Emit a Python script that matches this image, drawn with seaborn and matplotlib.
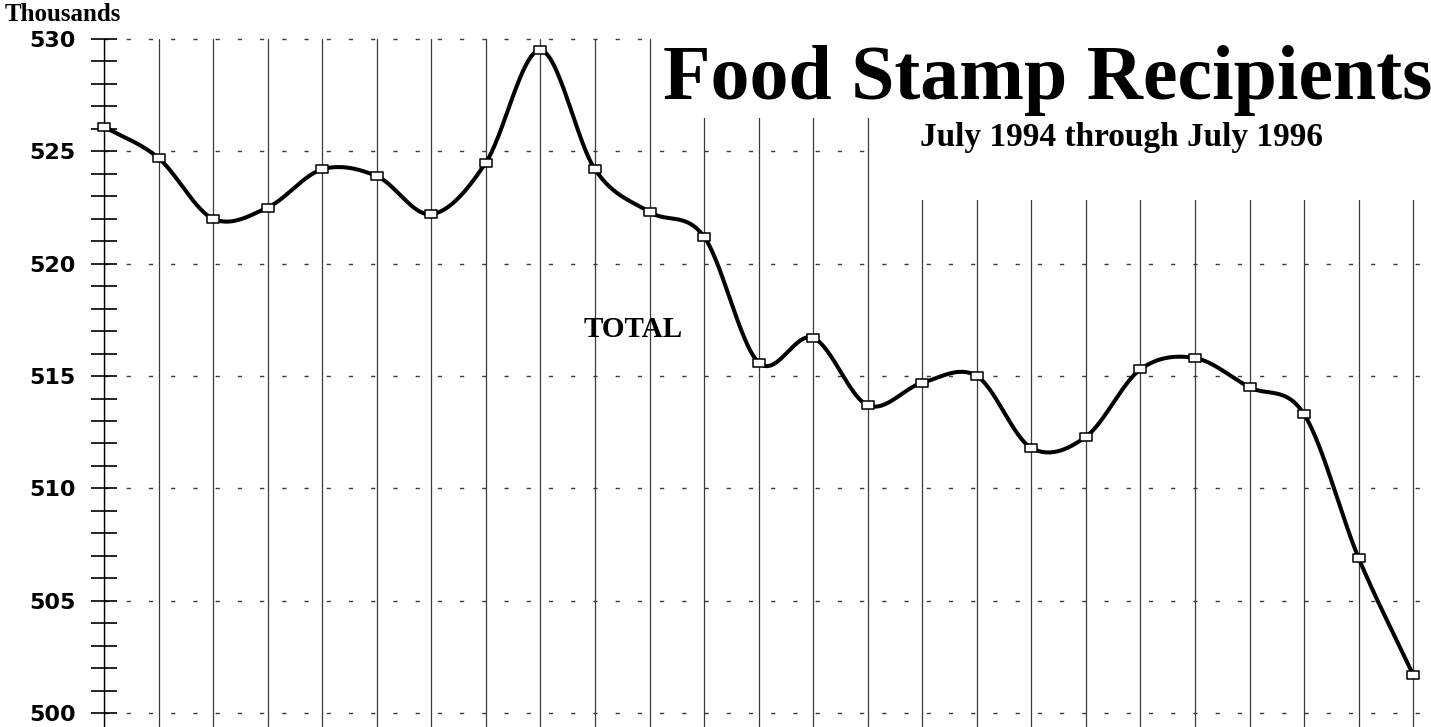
import numpy as np
import pandas as pd
import matplotlib
matplotlib.use("Agg")
import matplotlib.pyplot as plt
from matplotlib.path import Path
from matplotlib.patches import Rectangle
from matplotlib.ticker import MultipleLocator
import seaborn as sns

# monthly totals, thousands of recipients
months = pd.period_range("1994-07", "1996-07", freq="M").strftime("%b %Y").tolist()
recipients = [526.1, 524.7, 522.0, 522.5, 524.2, 523.9, 522.2, 524.5, 529.5,
              524.2, 522.3, 521.2, 515.6, 516.7, 513.7, 514.7, 515.0, 511.8,
              512.3, 515.3, 515.8, 514.5, 513.3, 506.9, 501.7]
y_ticks = [500, 505, 510, 515, 520, 525, 530]

df = pd.DataFrame({"month": months, "idx": range(len(months)), "total": recipients})


def catmull_rom(x, y, n=30):
    # smooth drawing path through the data points (like a spreadsheet "smoothed line")
    p = np.column_stack([x, y]).astype(float)
    p = np.vstack([2 * p[0] - p[1], p, 2 * p[-1] - p[-2]])
    t = np.linspace(0, 1, n, endpoint=False)[:, None]
    segs = []
    for i in range(1, len(p) - 2):
        p0, p1, p2, p3 = p[i - 1], p[i], p[i + 1], p[i + 2]
        segs.append(0.5 * (2 * p1 + (-p0 + p2) * t
                           + (2 * p0 - 5 * p1 + 4 * p2 - p3) * t ** 2
                           + (-p0 + 3 * p1 - 3 * p2 + p3) * t ** 3))
    segs.append(p[-2][None, :])
    return np.vstack(segs)


curve = catmull_rom(df["idx"], df["total"])

sns.set_style("white")
plt.rcParams["text.color"] = "black"
plt.rcParams["ytick.color"] = "black"
serif = ["Liberation Serif", "DejaVu Serif"]

W, H = 1431, 727
fig = plt.figure(figsize=(W / 100, H / 100), dpi=100)
ax = fig.add_axes([104 / W, 0, (W - 104) / W, 688 / H])

sns.lineplot(x=curve[:, 0], y=curve[:, 1], sort=False, estimator=None,
             color="black", linewidth=2.9, ax=ax, zorder=3)

rect = Path([(-1.6, -1), (1.6, -1), (1.6, 1), (-1.6, 1), (-1.6, -1)],
            [Path.MOVETO, Path.LINETO, Path.LINETO, Path.LINETO, Path.CLOSEPOLY])
sns.scatterplot(data=df, x="idx", y="total", marker=rect, s=75,
                facecolor="white", edgecolor="black", linewidth=1.1,
                ax=ax, zorder=4)
for coll in ax.collections:
    coll.set_clip_on(False)

ax.set_xlim(0, (W - 104) / 54.55)
ax.set_ylim(530 - 688 / 22.47, 530)
ax.set_xlabel("")
ax.set_ylabel("")

ax.set_xticks(df["idx"])
ax.tick_params(axis="x", length=0, labelbottom=False)
ax.set_yticks(y_ticks)
ax.set_yticklabels([str(v) for v in y_ticks], fontweight="bold",
                   fontsize=16, family="DejaVu Sans", color="black")
ax.yaxis.set_minor_locator(MultipleLocator(1))
ax.tick_params(axis="y", which="both", left=True, direction="inout",
               length=19, width=1.2, color="black", pad=11)

ax.set_axisbelow(True)
ax.grid(axis="x", color="#3a3a3a", linewidth=0.9, linestyle="-")
ax.grid(axis="y", which="major", color="#3a3a3a", linewidth=1.0,
        linestyle=(0, (3, 13)))
for gl in ax.get_ygridlines():
    gl.set_clip_on(False)

for s in ["top", "right", "bottom"]:
    ax.spines[s].set_visible(False)
ax.spines["left"].set_color("black")
ax.spines["left"].set_linewidth(1.0)

# white panels behind the title block
for x0, y0, x1, y1 in [(655, 0, W, 118), (870, 118, W, 200)]:
    ax.add_patch(Rectangle((x0 / W, 1 - y1 / H), (x1 - x0) / W, (y1 - y0) / H,
                           transform=fig.transFigure, facecolor="white",
                           edgecolor="none", clip_on=False, zorder=1))

fig.text(663 / W, 1 - 99 / H, "Food Stamp Recipients", fontsize=56,
         fontweight="bold", family=serif, ha="left", va="baseline")
fig.text(920 / W, 1 - 146 / H, "July 1994 through July 1996", fontsize=24,
         fontweight="bold", family=serif, ha="left", va="baseline")
fig.text(633 / W, 1 - 337 / H, "TOTAL", fontsize=21, fontweight="bold",
         family=serif, ha="center", va="baseline")
fig.text(5 / W, 1 - 21 / H, "Thousands", fontsize=18, fontweight="bold",
         family=serif, ha="left", va="baseline")

fig.savefig("out.png", dpi=100)
